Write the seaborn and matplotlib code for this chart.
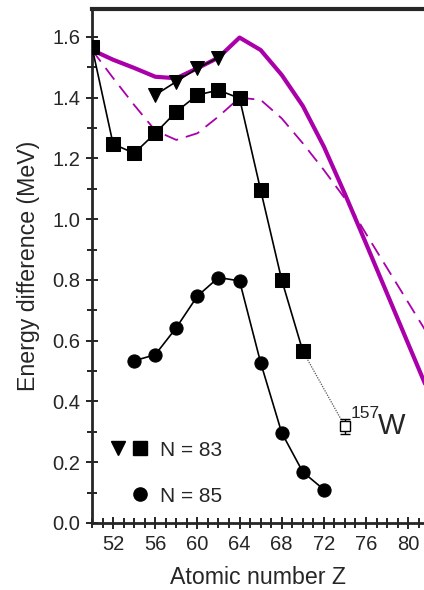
import numpy as np
import pandas as pd
import matplotlib
matplotlib.use("Agg")
import matplotlib.pyplot as plt
import seaborn as sns
from matplotlib.lines import Line2D
from matplotlib.legend_handler import HandlerTuple
from matplotlib.ticker import MultipleLocator, FixedLocator

# ---- data ----
z_sq = [50, 52, 54, 56, 58, 60, 62, 64, 66, 68, 70]
e_sq = [1.567, 1.248, 1.217, 1.283, 1.354, 1.409, 1.425, 1.398, 1.096, 0.800, 0.566]

z_tri = [56, 58, 60, 62]
e_tri = [1.409, 1.453, 1.497, 1.532]

z_circ = [54, 56, 58, 60, 62, 64, 66, 68, 70, 72]
e_circ = [0.534, 0.554, 0.643, 0.747, 0.808, 0.797, 0.528, 0.297, 0.168, 0.110]

z_w = [74]
e_w = [0.318]
err_w = [0.025]

z_th = [50, 52, 54, 56, 58, 60, 62, 64, 66, 68, 70, 72, 74, 76, 78, 80, 82]
e_solid = [1.557, 1.525, 1.498, 1.469, 1.464, 1.497, 1.532, 1.598, 1.557, 1.475,
           1.373, 1.239, 1.083, 0.920, 0.755, 0.590, 0.425]
e_dash = [1.557, 1.465, 1.376, 1.292, 1.261, 1.283, 1.338, 1.400, 1.393, 1.332,
          1.250, 1.162, 1.068, 0.952, 0.839, 0.726, 0.613]

x_ticks = [52, 56, 60, 64, 68, 72, 76, 80]
y_ticks = [0.0, 0.2, 0.4, 0.6, 0.8, 1.0, 1.2, 1.4, 1.6]

# ---- style ----
sns.set_style("ticks")
plt.rcParams['font.family'] = ['Liberation Sans', 'DejaVu Sans']

purple = '#AA00AA'
fig = plt.figure(figsize=(4.24, 5.90), dpi=100)
ax = fig.add_axes([92/424, (590-523)/590, 1 - 92/424, (523-9)/590])

th = pd.DataFrame({'Z': z_th, 'solid': e_solid, 'dash': e_dash})
sns.lineplot(data=th, x='Z', y='solid', ax=ax, color=purple, lw=3.0, zorder=2)
sns.lineplot(data=th, x='Z', y='dash', ax=ax, color=purple, lw=1.3, zorder=2,
             dashes=False)
ax.lines[-1].set_dashes([8, 4.5])

# dotted connection to 157W
ax.plot([z_sq[-1], z_w[0]], [e_sq[-1], e_w[0]], ls=(0, (1, 1)), color='#555555',
        lw=0.9, zorder=3)

sq = pd.DataFrame({'Z': z_sq, 'E': e_sq})
tri = pd.DataFrame({'Z': z_tri, 'E': e_tri})
cir = pd.DataFrame({'Z': z_circ, 'E': e_circ})
sns.lineplot(data=sq, x='Z', y='E', ax=ax, color='black', lw=1.2, marker='s',
             markersize=9.5, markeredgecolor='black', zorder=4)
sns.lineplot(data=tri, x='Z', y='E', ax=ax, color='black', lw=1.2, marker='v',
             markersize=10.5, markeredgecolor='black', zorder=4)
sns.lineplot(data=cir, x='Z', y='E', ax=ax, color='black', lw=1.2, marker='o',
             markersize=9.5, markeredgecolor='black', zorder=4)

ax.errorbar(z_w, e_w, yerr=err_w, fmt='s', mfc='white', mec='black', ecolor='black',
            ms=7.5, mew=1.0, capsize=3.5, elinewidth=1.0, capthick=1.0, zorder=5)
ax.annotate('157', xy=(z_w[0], e_w[0]), xytext=(6, 13), textcoords='offset pixels',
            fontsize=12.5, ha='left', va='center')
ax.annotate('W', xy=(z_w[0], e_w[0]), xytext=(33, 0), textcoords='offset pixels',
            fontsize=21, ha='left', va='center')

ax.set_xlim(50, 81.5)
ax.set_ylim(0, 1.692)
ax.xaxis.set_major_locator(FixedLocator(x_ticks))
ax.xaxis.set_minor_locator(MultipleLocator(1))
ax.yaxis.set_major_locator(FixedLocator(y_ticks))
ax.yaxis.set_minor_locator(MultipleLocator(0.1))
ax.set_xticklabels([str(v) for v in x_ticks])
ax.set_yticklabels([f'{v:.1f}' for v in y_ticks])
ax.tick_params(axis='both', which='both', direction='inout', width=1.2,
               labelsize=14.5, color='black')
ax.tick_params(axis='both', which='major', length=9, pad=4)
ax.tick_params(axis='both', which='minor', length=7)

for s in ['left', 'bottom']:
    ax.spines[s].set_linewidth(2.0)
ax.spines['top'].set_visible(True)
ax.spines['top'].set_linewidth(3.0)
ax.spines['right'].set_visible(False)

ax.set_xlabel('Atomic number Z', fontsize=16.7, labelpad=9)
ax.set_ylabel('Energy difference (MeV)', fontsize=16.7, labelpad=9)

blank = Line2D([], [], ls='none', marker=None)
h_tri = Line2D([], [], ls='none', marker='v', color='black', ms=10.5)
h_sq = Line2D([], [], ls='none', marker='s', color='black', ms=9.5)
h_c = Line2D([], [], ls='none', marker='o', color='black', ms=9.5)
leg = ax.legend([(h_tri, h_sq), (blank, h_c)], ['N = 83', 'N = 85'],
                handler_map={tuple: HandlerTuple(ndivide=None, pad=0.1)},
                loc='lower left', bbox_to_anchor=(-0.039, -0.023), frameon=False,
                fontsize=15, labelspacing=1.3, handlelength=2.0, handletextpad=0.5,
                borderaxespad=1.0)

fig.savefig('out.png', dpi=100)
